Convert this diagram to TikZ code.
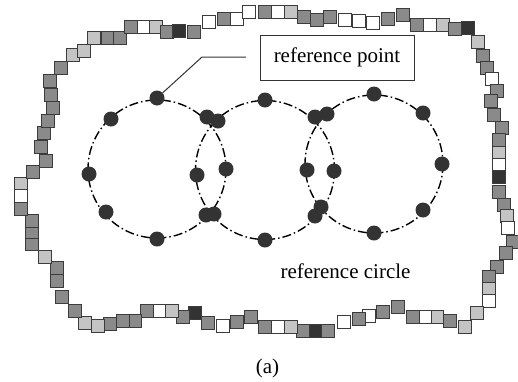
\documentclass[tikz,border=0pt]{standalone}
\usepackage{fontspec}
\setmainfont{Liberation Serif}
\definecolor{cW}{HTML}{FFFFFF}
\definecolor{cL}{HTML}{C4C4C4}
\definecolor{cM}{HTML}{8A8A8A}
\definecolor{cD}{HTML}{333333}
\definecolor{edge}{HTML}{3C3C3C}
\definecolor{dotc}{HTML}{333333}
\tikzset{
  sq/.style={draw=edge, line width=1.3pt},
  refcirc/.style={line width=1.4pt, dash pattern=on 9pt off 3pt on 1.5pt off 3pt},
  refdot/.style={circle, fill=dotc, inner sep=0pt, minimum size=15pt},
  leader/.style={draw=cD, line width=1pt},
  lbl/.style={font=\fontsize{21}{25}\selectfont, inner sep=0pt},
  boxlbl/.style={draw=cD, line width=1pt, minimum width=154pt, minimum height=45pt, font=\fontsize{21}{25}\selectfont, inner sep=0pt}
}
\begin{document}
\begin{tikzpicture}[x=1pt, y=-1pt]
\useasboundingbox (0,0) rectangle (518,381);
% chain of squares
\foreach \x/\y/\c in {21/184/cL, 33/172/cM, 46/161/cM, 41/147/cM, 44/133/cM, 48/121/cM, 53/108/cM, 51/95/cM, 50/81/cM, 61/68/cM, 73/55/cL, 84/51/cL, 94/38/cL, 108/38/cM, 120/38/cM, 131/27/cM, 144/27/cW, 156/27/cL, 167/32/cM, 179/31/cD, 194/32/cM, 209/22/cW, 224/19/cM, 237/19/cW, 249/12/cW, 265/12/cM, 278/12/cW, 291/12/cL, 304/17/cM, 317/20/cM, 330/17/cM, 345/20/cW, 359/21/cW, 373/23/cW, 388/19/cM, 403/15/cM, 417/25/cM, 430/25/cW, 443/25/cL, 455/29/cM, 468/28/cD, 478/42/cL, 483/56/cM, 487/68/cM, 492/79/cW, 497/91/cM, 491/101/cM, 494/115/cM, 502/128/cM, 499/140/cM, 499/153/cL, 499/165/cW, 499/177/cD, 499/192/cM, 504/205/cM, 507/216/cL, 508/228/cW, 513/242/cM, 506/253/cM, 497/267/cM, 489/277/cM, 489/289/cL, 489/301/cW, 477/313/cL, 465/327/cL, 450/321/cM, 437/317/cL, 425/317/cW, 413/317/cM, 398/307/cM, 383/312/cM, 369/316/cW, 359/319/cM, 344/322/cW, 328/331/cM, 315/331/cD, 303/331/cM, 291/327/cL, 278/327/cW, 265/327/cM, 251/317/cM, 237/322/cM, 223/326/cW, 208/323/cM, 195/313/cD, 183/317/cM, 172/311/cL, 159/311/cW, 147/311/cM, 135/321/cM, 123/321/cM, 110/324/cM, 98/326/cL, 85/323/cL, 75/311/cM, 62/297/cM, 57/281/cM, 57/268/cM, 45/257/cL, 32/244/cM, 32/232/cM, 32/221/cM, 21/209/cM, 21/196/cW}
  \draw[sq, fill=\c] (\x-6.5,\y-6.5) rectangle (\x+6.5,\y+6.5);
% reference circles
\draw[refcirc] (157,169) circle[radius=69];
\draw[refcirc] (265,170) circle[radius=69.5];
\draw[refcirc] (374,164) circle[radius=69];
% dots
\foreach \n/\x/\y in {a1/157/98, a2/111/119, a3/89/174, a4/106/212, a5/157/239, a6/206/215, a7/226/169, a8/207/117,
  b1/265/100, b2/218/121, b3/197/175, b4/214/214, b5/265/240, b6/315/216, b7/334/171, b8/315/117,
  c1/374/94, c2/327/114, c3/307/170, c4/321/207, c5/374/233, c6/423/210, c7/442/164, c8/423/113}
  \node[refdot] (\n) at (\x,\y) {};
% labels
\node[boxlbl] (rp) at (337,57.5) {reference point};
\coordinate (lb) at (202,57);
\coordinate (le) at (246,57);
\draw[leader] (a1) -- (lb) -- (le);
\node[lbl, anchor=base] (rc) at (345.5,278) {reference circle};
\node[lbl, anchor=base] (cap) at (267.5,373) {(a)};
\end{tikzpicture}
\end{document}
